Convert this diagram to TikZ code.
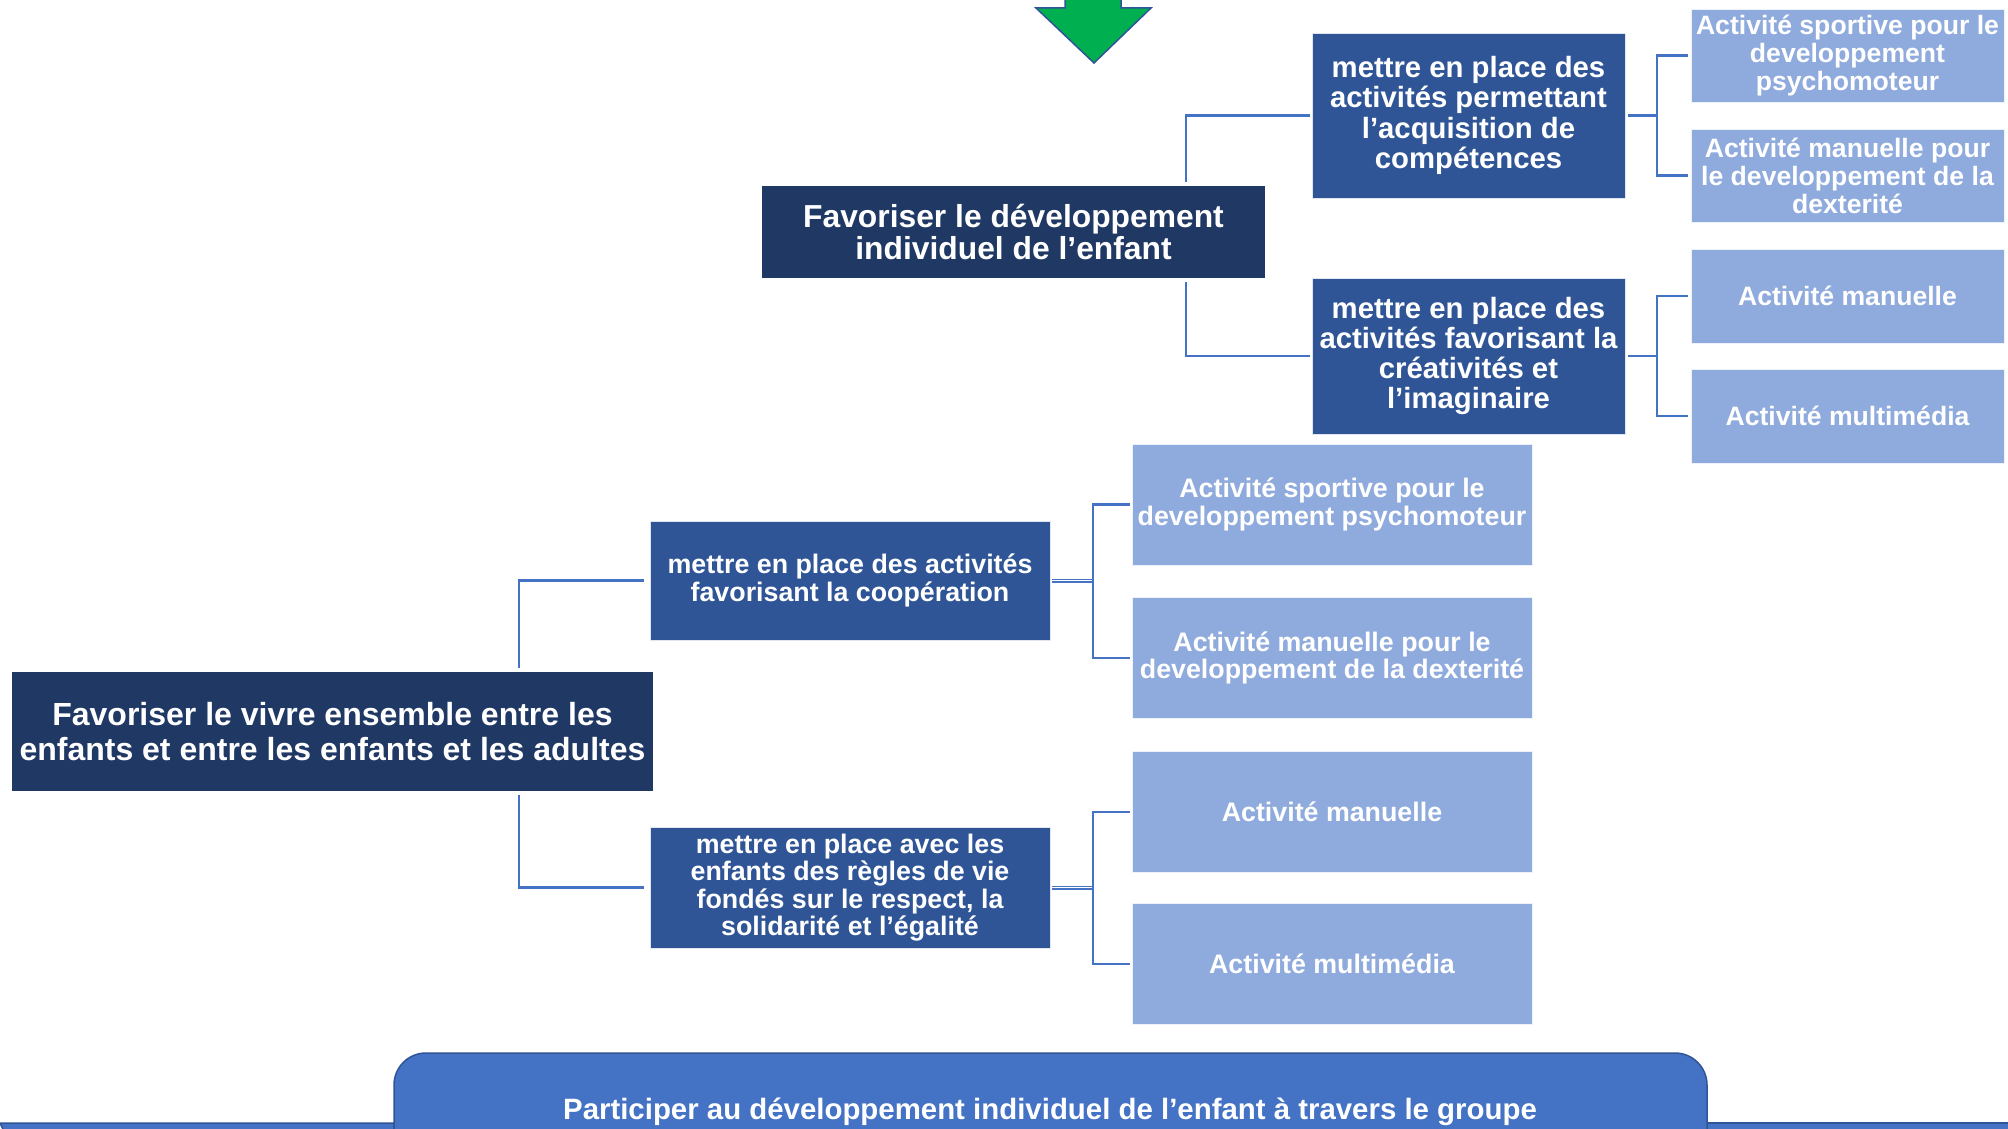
\documentclass[tikz,border=0pt]{standalone}
\usepackage{fontspec}
\setmainfont{Liberation Sans}
\definecolor{navy}{HTML}{203864}
\definecolor{subblue}{HTML}{2F5597}
\definecolor{leafblue}{HTML}{8FAADC}
\definecolor{linkblue}{HTML}{4472C4}
\definecolor{arrowgreen}{HTML}{00B050}
\tikzset{
  box/.style={inner sep=0pt, align=center, text=white},
  mainbox/.style={box, fill=navy},
  subbox/.style={box, fill=subblue, draw=white!85!subblue, line width=0.6pt},
  leafbox/.style={box, fill=leafblue, draw=white!85!leafblue, line width=0.6pt},
  conn/.style={draw=linkblue, line width=2.6pt},
  dconn/.style={draw=linkblue, line width=1.4pt, double=white, double distance=1.2pt},
  fmain/.style={font={\fontsize{31.8}{32}\selectfont\bfseries}},
  fmainb/.style={font={\fontsize{32}{34.6}\selectfont\bfseries}},
  fsubtop/.style={font={\fontsize{29.3}{30.3}\selectfont\bfseries}},
  fleaf/.style={font={\fontsize{26.6}{28}\selectfont\bfseries}},
  fsubmid/.style={font={\fontsize{26.8}{27.4}\selectfont\bfseries}},
}
\begin{document}
\begin{tikzpicture}[x=1pt,y=-1pt]
\useasboundingbox (0,0) rectangle (2008,1129);
\clip (0,0) rectangle (2008,1129);

% green arrow at top
\filldraw[fill=arrowgreen, draw=subblue, line width=1.5pt]
  (1065,-20) -- (1065,8) -- (1036,8) -- (1094,63) -- (1151,8) -- (1121,8) -- (1121,-20) -- cycle;

% upper tree
\node[mainbox, fmain, minimum width=503pt, minimum height=92pt] (m1) at (1013.5,232)
  {Favoriser le développement\\individuel de l’enfant};
\node[subbox, fsubtop, minimum width=313pt, minimum height=165pt] (sA) at (1468.5,115.5)
  {mettre en place des\\activités permettant\\l’acquisition de\\compétences};
\node[subbox, fsubtop, minimum width=313pt, minimum height=156pt] (sB) at (1468.5,356)
  {mettre en place des\\activités favorisant la\\créativités et\\l’imaginaire};
\node[leafbox, fleaf, minimum width=313pt, minimum height=93pt] (tl1) at (1847.5,55.5)
  {Activité sportive pour le\\developpement\\psychomoteur};
\node[leafbox, fleaf, minimum width=313pt, minimum height=93pt] (tl2) at (1847.5,175.5)
  {Activité manuelle pour\\le developpement de la\\dexterité};
\node[leafbox, fleaf, minimum width=313pt, minimum height=94pt] (tl3) at (1847.5,296)
  {Activité manuelle};
\node[leafbox, fleaf, minimum width=313pt, minimum height=94pt] (tl4) at (1847.5,416)
  {Activité multimédia};

% lower tree
\node[mainbox, fmainb, minimum width=641pt, minimum height=119pt] (m2) at (332.5,731.5)
  {Favoriser le vivre ensemble entre les\\enfants et entre les enfants et les adultes};
\node[subbox, fsubmid, minimum width=400pt, minimum height=119pt] (sC) at (850,580.5)
  {mettre en place des activités\\favorisant la coopération};
\node[subbox, fsubmid, minimum width=400pt, minimum height=121pt] (sD) at (850,887.5)
  {mettre en place avec les\\enfants des règles de vie\\fondés sur le respect, la\\solidarité et l’égalité};
\node[leafbox, fsubmid, minimum width=400pt, minimum height=121pt] (ml1) at (1332,504.5)
  {Activité sportive pour le\\developpement psychomoteur};
\node[leafbox, fsubmid, minimum width=400pt, minimum height=121pt] (ml2) at (1332,658)
  {Activité manuelle pour le\\developpement de la dexterité};
\node[leafbox, fsubmid, minimum width=400pt, minimum height=121pt] (ml3) at (1332,812)
  {Activité manuelle};
\node[leafbox, fsubmid, minimum width=400pt, minimum height=121pt] (ml4) at (1332,964)
  {Activité multimédia};

% connectors upper
\coordinate (k1) at (1186,0);
\draw[conn, shorten <=4pt, shorten >=2pt] (m1.north -| k1) |- (sA.west);
\draw[conn, shorten <=4pt, shorten >=2pt] (m1.south -| k1) |- (sB.west);
\coordinate (j1) at (1657,115.5);
\coordinate (j2) at (1657,356);
\draw[conn, shorten <=3pt] (sA.east) -- (j1);
\draw[conn, shorten <=3pt, shorten >=3pt] (tl1.west) -| (j1) |- (tl2.west);
\draw[conn, shorten <=3pt] (sB.east) -- (j2);
\draw[conn, shorten <=3pt, shorten >=3pt] (tl3.west) -| (j2) |- (tl4.west);

% connectors lower
\coordinate (k2) at (519,0);
\draw[conn, shorten <=4pt, shorten >=6pt] (m2.north -| k2) |- (sC.west);
\draw[conn, shorten <=4pt, shorten >=6pt] (m2.south -| k2) |- (sD.west);
\coordinate (j3) at (1093,580.5);
\coordinate (j4) at (1093,887.5);
\draw[dconn, shorten <=2pt] (sC.east) -- (j3);
\draw[conn, shorten <=2pt, shorten >=2pt] (ml1.west) -| (j3) |- (ml2.west);
\draw[dconn, shorten <=2pt] (sD.east) -- (j4);
\draw[conn, shorten <=2pt, shorten >=2pt] (ml3.west) -| (j4) |- (ml4.west);

% bottom shapes
\filldraw[fill=linkblue, draw=subblue, line width=1.5pt]
  (0,1123) -- (394,1123) -- (394,1140) -- (8,1140) -- cycle;
\filldraw[fill=linkblue, draw=subblue, line width=1.5pt]
  (1707,1123) -- (2020,1123) -- (2020,1140) -- (1707,1140) -- cycle;
\filldraw[fill=linkblue, draw=subblue, line width=1.5pt]
  (394,1150) [rounded corners=32pt] -- (394,1053) -- (1707,1053) [sharp corners] -- (1707,1150) -- cycle;
\node[box, font={\fontsize{29.4}{30}\selectfont\bfseries}] (bt) at (1050,1112)
  {Participer au développement individuel de l’enfant à travers le groupe};
\end{tikzpicture}
\end{document}
